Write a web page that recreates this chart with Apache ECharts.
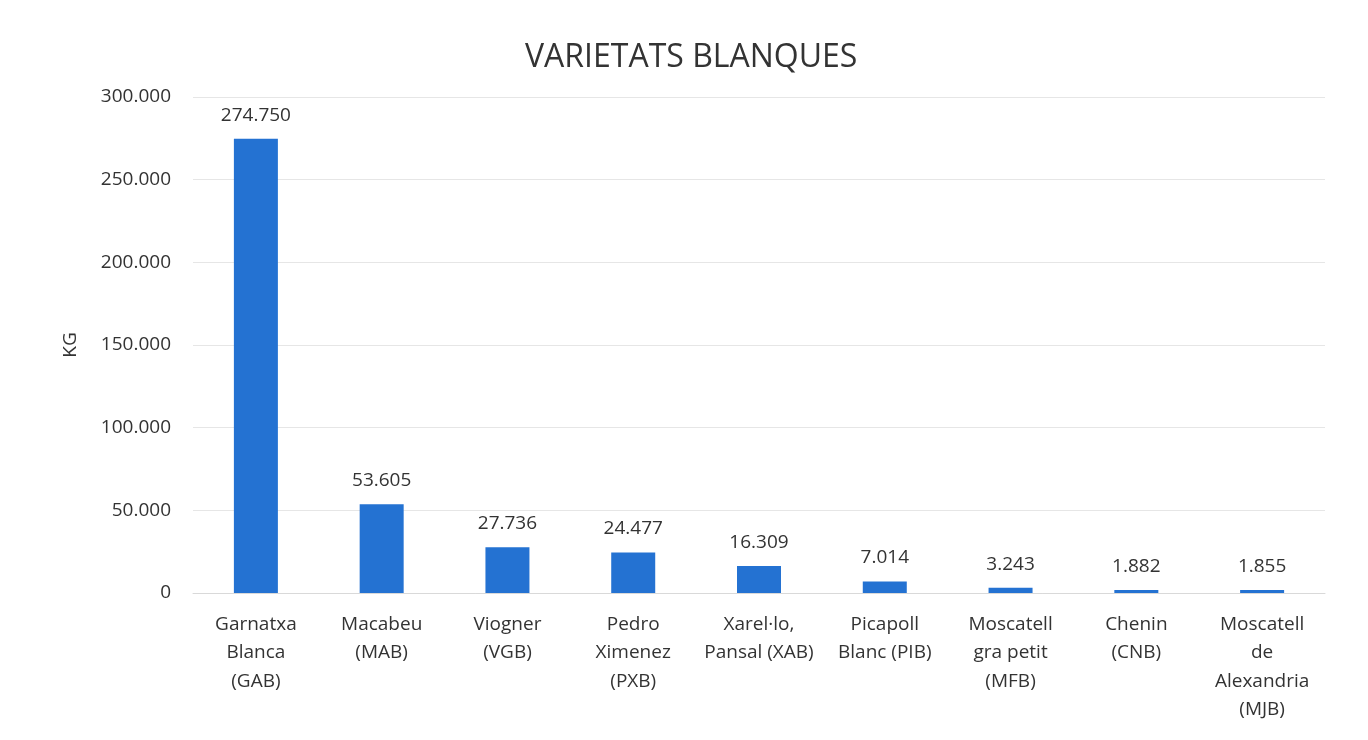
<!DOCTYPE html>
<html>
<head>
<meta charset="utf-8">
<script src="https://cdn.jsdelivr.net/npm/echarts@6/dist/echarts.min.js"></script>
<style>
  html, body { margin: 0; padding: 0; background: #fff; }
  #chart { width: 1368px; height: 740px; }
</style>
</head>
<body>
<div id="chart"></div>
<script>
// varietats blanques, kg
var categories = [
  'Garnatxa\nBlanca\n(GAB)',
  'Macabeu\n(MAB)',
  'Viogner\n(VGB)',
  'Pedro\nXimenez\n(PXB)',
  'Xarel·lo,\nPansal (XAB)',
  'Picapoll\nBlanc (PIB)',
  'Moscatell\ngra petit\n(MFB)',
  'Chenin\n(CNB)',
  'Moscatell\nde\nAlexandria\n(MJB)'
];
var kg = [274750, 53605, 27736, 24477, 16309, 7014, 3243, 1882, 1855];

// format amb punt de milers
function fmt(v) {
  return String(v).replace(/\B(?=(\d{3})+(?!\d))/g, '.');
}

var fontName = 'Open Sans';
var textColor = '#333333';

var myChart = echarts.init(document.getElementById('chart'));
myChart.setOption({
  animation: false,
  textStyle: { fontFamily: fontName },
  title: {
    text: 'VARIETATS BLANQUES',
    left: 520,
    top: 37,
    textStyle: { fontSize: 32, fontWeight: 'normal', color: textColor, fontFamily: fontName }
  },
  grid: {
    left: 193,
    right: 43,
    top: 97,
    bottom: 147
  },
  xAxis: {
    type: 'category',
    data: categories,
    axisLine: { lineStyle: { color: '#d9d9d9' } },
    axisTick: { show: false },
    axisLabel: {
      interval: 0,
      margin: 17,
      fontSize: 19,
      lineHeight: 28.5,
      color: textColor,
      fontFamily: fontName
    }
  },
  yAxis: {
    type: 'value',
    min: 0,
    max: 300000,
    interval: 50000,
    name: 'KG',
    nameLocation: 'middle',
    nameGap: 113,
    nameTextStyle: { fontSize: 19, color: textColor, fontFamily: fontName },
    axisLine: { show: false },
    axisTick: { show: false },
    splitLine: { lineStyle: { color: '#e6e6e6' } },
    axisLabel: {
      margin: 22,
      fontSize: 19,
      color: textColor,
      fontFamily: fontName,
      formatter: function (v) { return fmt(v); }
    }
  },
  series: [{
    type: 'bar',
    data: kg,
    barWidth: 44,
    itemStyle: { color: '#2472D2' },
    label: {
      show: true,
      position: 'top',
      distance: 14,
      fontSize: 19,
      color: textColor,
      fontFamily: fontName,
      formatter: function (p) { return fmt(p.value); }
    }
  }]
});
</script>
</body>
</html>
